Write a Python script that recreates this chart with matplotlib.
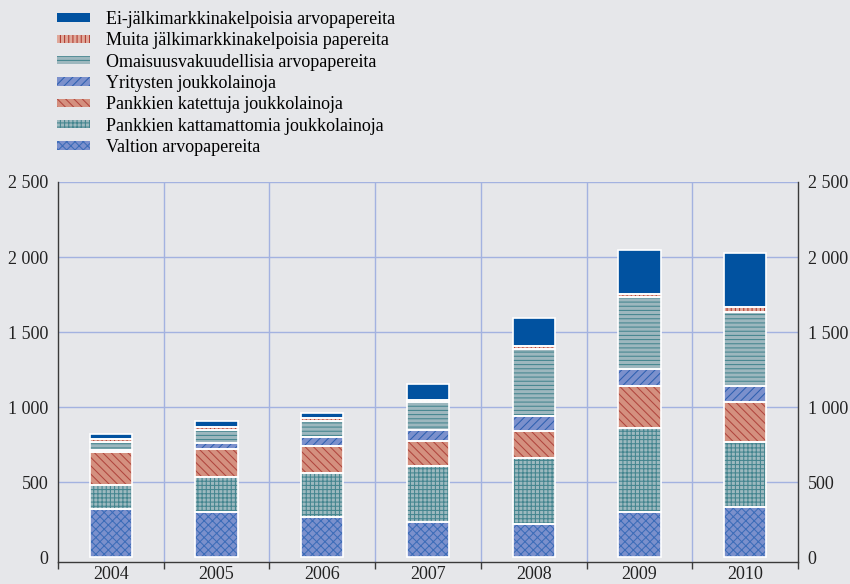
import numpy as np
import matplotlib.pyplot as plt

# Data
# ------------------------------------------------------------------------

years = ['2004', '2005', '2006', '2007', '2008', '2009', '2010']

valtion = [320, 305, 272, 235, 226, 304, 335]
kattamattomia = [165, 230, 293, 373, 435, 557, 437]
katettuja = [218, 190, 176, 169, 178, 282, 260]
yritysten = [16, 36, 58, 69, 104, 111, 111]
omaisuus = [51, 87, 111, 189, 445, 480, 491]
muita = [18, 24, 22, 13, 18, 23, 32]
ei_jalki = [35, 36, 33, 109, 188, 293, 362]

series = [
    ('Valtion arvopapereita', valtion, '#7b90cc', '#3c6cb8', 'xxxx'),
    ('Pankkien kattamattomia joukkolainoja', kattamattomia, '#9db9bf', '#44858f', '++++'),
    ('Pankkien katettuja joukkolainoja', katettuja, '#d4907f', '#b0463e', '\\\\\\\\'),
    ('Yritysten joukkolainoja', yritysten, '#7b90cc', '#2e60b0', '////'),
    ('Omaisuusvakuudellisia arvopapereita', omaisuus, '#9db7be', '#44858f', '----'),
    ('Muita jälkimarkkinakelpoisia papereita', muita, '#e0a89a', '#b03a30', '||||'),
    ('Ei-jälkimarkkinakelpoisia arvopapereita', ei_jalki, '#0152a0', '#0152a0', None),
]

# Plot
# ------------------------------------------------------------------------

plt.rcParams['font.family'] = 'Liberation Serif'
plt.rcParams['hatch.linewidth'] = 0.75

bg = '#e6e7ea'
grid_color = '#a3b2e0'

fig = plt.figure(figsize=(8.5, 5.84), dpi=100, facecolor=bg)
ax = fig.add_axes([58 / 850, 22 / 584, 740 / 850, 380 / 584], facecolor=bg)

x = np.arange(len(years))
bottom = np.zeros(len(years))
handles = []
for label, vals, face, hatch_col, hatch in series:
    vals = np.array(vals, dtype=float)
    h = ax.bar(x, vals, 0.4, bottom=bottom, color=face, edgecolor=hatch_col,
               linewidth=0, hatch=hatch, label=label, zorder=3)
    ax.bar(x, vals, 0.4, bottom=bottom, facecolor='none', edgecolor='white',
           linewidth=1.2, zorder=4)
    handles.append(h)
    bottom += vals

ax.set_xlim(-0.5, len(years) - 0.5)
ax.set_ylim(-30, 2500)

# grid
for b in np.arange(0.5, len(years) - 0.5, 1):
    ax.axvline(b, color=grid_color, linewidth=1, zorder=1)
for yv in [500, 1000, 1500, 2000, 2500]:
    ax.axhline(yv, color=grid_color, linewidth=1, zorder=1)

ax.spines['top'].set_visible(False)
for s in ['left', 'right', 'bottom']:
    ax.spines[s].set_color('#3a3a3a')
    ax.spines[s].set_linewidth(1.0)

ax.set_yticks([0, 500, 1000, 1500, 2000, 2500])
ax.set_yticklabels(['0', '500', '1 000', '1 500', '2 000', '2 500'])
ax.tick_params(axis='y', length=0, labelsize=13, pad=7, left=True, right=True,
               labelleft=True, labelright=True, colors='#222222')

ax.set_xticks(np.arange(-0.5, len(years), 1))
ax.set_xticklabels([])
ax.set_xticks(x, minor=True)
ax.set_xticklabels(years, minor=True)
ax.tick_params(axis='x', which='major', direction='out', length=5, width=1,
               color='#3a3a3a')
ax.tick_params(axis='x', which='minor', length=0, labelsize=13, pad=3,
               colors='#222222')

leg = fig.legend(handles[::-1], [s[0] for s in series][::-1],
                 loc='upper left', bbox_to_anchor=(57 / 850, 1 - 11 / 584),
                 frameon=False, fontsize=13, handlelength=1.85,
                 handleheight=0.35, handletextpad=0.85, labelspacing=0.24,
                 borderpad=0, borderaxespad=0)

fig.savefig('out.png', dpi=100, facecolor=bg)
